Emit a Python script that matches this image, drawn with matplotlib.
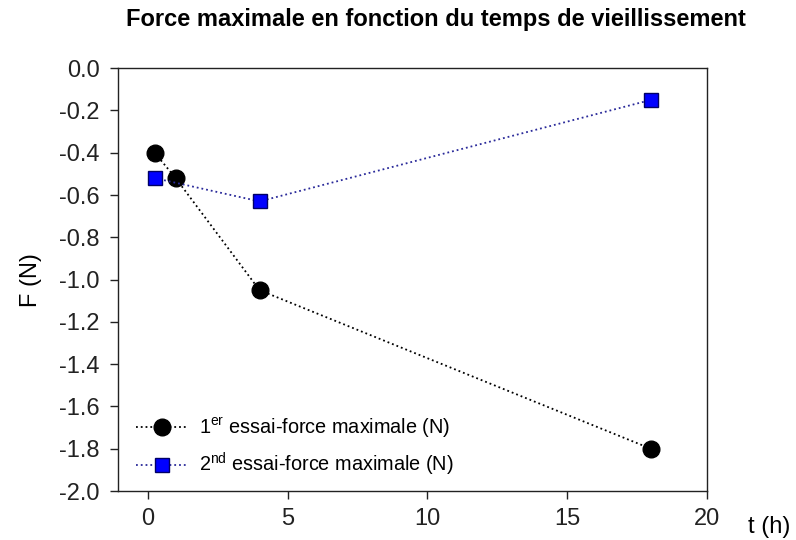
import matplotlib
matplotlib.use("Agg")
import matplotlib.pyplot as plt

plt.rcParams['font.family'] = ['Liberation Sans', 'DejaVu Sans']
plt.rcParams['mathtext.default'] = 'regular'
plt.rcParams['mathtext.fontset'] = 'custom'
plt.rcParams['mathtext.rm'] = 'Liberation Sans'

t1 = [0.25, 1, 4, 18]
f1 = [-0.40, -0.52, -1.05, -1.80]
t2 = [0.25, 4, 18]
f2 = [-0.52, -0.63, -0.15]
label1 = "1$^{er}$ essai-force maximale (N)"
label2 = "2$^{nd}$ essai-force maximale (N)"
xticks = [0, 5, 10, 15, 20]
yticks = [0.0, -0.2, -0.4, -0.6, -0.8, -1.0, -1.2, -1.4, -1.6, -1.8, -2.0]

fig = plt.figure(figsize=(7.96, 5.40), dpi=100)
ax = fig.add_axes([0.148, 0.0907, 0.740, 0.783])

ax.plot(t1, f1, linestyle=':', color='black', linewidth=1.3, marker='o',
        markersize=12, markerfacecolor='black', markeredgecolor='black',
        label=label1, zorder=3)
ax.plot(t2, f2, linestyle=':', color='#2a2a9a', linewidth=1.3, marker='s',
        markersize=10, markerfacecolor='#0000ff', markeredgecolor='#000066',
        label=label2, zorder=3)

ax.set_xlim(-1.07, 20)
ax.set_ylim(-2.0, 0.0)
ax.set_xticks(xticks)
ax.set_yticks(yticks)
ax.set_yticklabels([f"{v:.1f}" for v in yticks])
ax.tick_params(direction='out', length=6, width=1, labelsize=17, colors='#222222', pad=6)
ax.tick_params(axis='y', pad=7)
for s in ax.spines.values():
    s.set_linewidth(1.0)
    s.set_color('#222222')

ax.set_ylabel("F (N)", fontsize=17, labelpad=12)
ax.text(1.105, -0.085, "t (h)", transform=ax.transAxes, fontsize=17,
        ha='center', va='center')

fig.suptitle("Force maximale en fonction du temps de vieillissement",
             fontsize=17, fontweight='bold', x=0.548, y=0.985)

ax.legend(loc='lower left', frameon=False, fontsize=14.3, handlelength=2.6,
          handletextpad=0.6, labelspacing=0.55, bbox_to_anchor=(0.0, -0.012))

fig.savefig("out.png", dpi=100)
